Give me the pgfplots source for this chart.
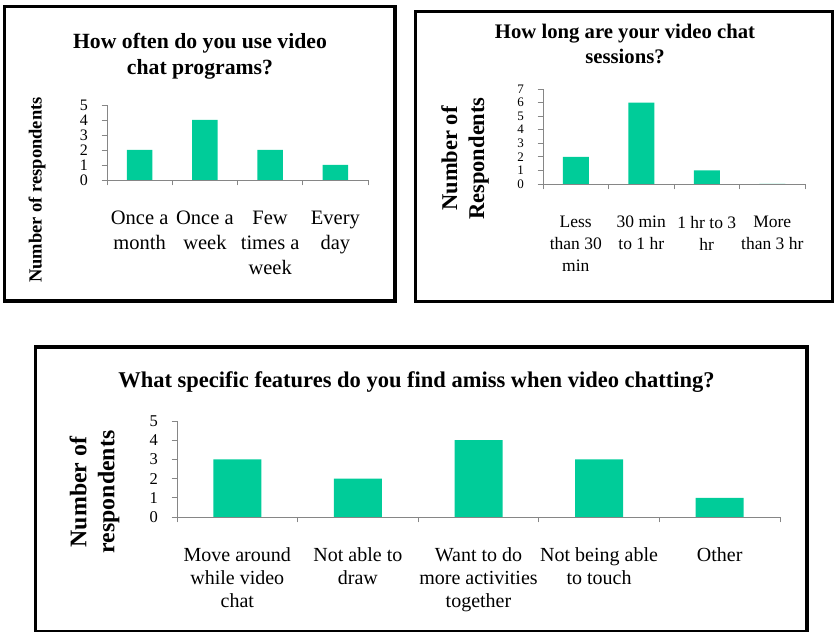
\documentclass[border=0pt]{standalone}
\usepackage{fontspec}
\setmainfont{Liberation Serif}
\usepackage{pgfplots}
\pgfplotsset{compat=1.18}
\definecolor{barc}{RGB}{0,204,153}
\definecolor{axc}{RGB}{134,134,134}
\pgfplotsset{
  mybar/.style={
    scale only axis,
    anchor=south west,
    ybar, ymin=0,
    enlargelimits=false,
    clip=false,
    axis x line*=bottom, axis y line*=left,
    axis line style={draw=axc, line width=0.9pt},
    ytick distance=1,
    tick align=outside,
    major tick length=5.5pt,
    ytick style={draw=axc, line width=0.8pt},
    xtick style={draw=none},
    extra x tick labels={},
    extra x tick style={xtick style={draw=axc, line width=0.8pt}},
    /pgf/number format/assume math mode=true,
    yticklabel style={anchor=east, xshift=-10pt},
    xticklabel style={align=center},
    title style={anchor=center, align=center, font=\bfseries},
    ylabel style={anchor=center, align=center, font=\bfseries},
  },
  mybars/.style={fill=barc, draw=none, bar shift=0pt},
}
\begin{document}
\begin{tikzpicture}
\useasboundingbox (0,0) rectangle (834pt,631pt);
% frames
\draw[line width=3.5pt] (4.5pt,624.5pt) rectangle (395pt,330pt);
\draw[line width=3.5pt] (415.5pt,619.5pt) rectangle (832.5pt,329.5pt);
\draw[line width=3.5pt] (35.5pt,284pt) rectangle (807pt,-0.5pt);

% Chart 1
\begin{axis}[mybar,
  at={(107pt,451pt)}, width=261pt, height=75pt,
  xmin=0.5, xmax=4.5, ymax=5,
  xtick={1,2,3,4},
  xticklabels={Once a\\month, Once a\\week, Few\\times a\\week, Every\\day},
  extra x ticks={0.5,1.5,2.5,3.5,4.5},
  xticklabel style={font=\fontsize{20.5}{25}\selectfont, yshift=-22pt},
  yticklabel style={font=\fontsize{16}{16}\selectfont},
  title={How often do you use video\\chat programs?},
  title style={at={(rel axis cs:0.3563,1.567)}, font=\bfseries\fontsize{21.7}{25.5}\selectfont},
  ylabel={Number of respondents},
  ylabel style={at={(rel axis cs:-0.2682,-0.1333)}, font=\bfseries\fontsize{18.5}{20}\selectfont},
  bar width=25.7pt,
]
\addplot[mybars] coordinates {(1,2) (2,4) (3,2) (4,1)};
\end{axis}

% Chart 2
\begin{axis}[mybar,
  at={(543pt,447pt)}, width=262pt, height=95pt,
  xmin=0.5, xmax=4.5, ymax=7,
  xtick={1,2,3,4},
  xticklabels={Less\\than 30\\min, 30 min\\to 1 hr, 1 hr to 3\\hr, More\\than 3 hr},
  extra x ticks={0.5,1.5,2.5,3.5,4.5},
  xticklabel style={font=\fontsize{17.5}{22}\selectfont, yshift=-23pt},
  yticklabel style={font=\fontsize{13}{13}\selectfont},
  title={How long are your video chat\\sessions?},
  title style={at={(rel axis cs:0.313,1.415)}, font=\bfseries\fontsize{20.7}{25}\selectfont},
  ylabel={Number of\\Respondents},
  ylabel style={at={(rel axis cs:-0.2977,0.2684)}, font=\bfseries\fontsize{22.5}{27}\selectfont},
  bar width=26pt,
]
\addplot[mybars] coordinates {(1,2) (2,6) (3,1) (4,0)};
\end{axis}

% Chart 3
\begin{axis}[mybar,
  at={(177pt,114pt)}, width=603pt, height=96pt,
  xmin=0.5, xmax=5.5, ymax=5,
  xtick={1,2,3,4,5},
  xticklabels={Move around\\while video\\chat, Not able to\\draw, Want to do\\more activities\\together, Not being able\\to touch, Other},
  extra x ticks={0.5,1.5,2.5,3.5,4.5,5.5},
  xticklabel style={font=\fontsize{20}{23}\selectfont, yshift=-22pt},
  yticklabel style={font=\fontsize{16.5}{16.5}\selectfont},
  title={What specific features do you find amiss when video chatting?},
  title style={at={(rel axis cs:0.3972,1.344)}, font=\bfseries\fontsize{22.5}{25}\selectfont},
  ylabel={Number of\\respondents},
  ylabel style={at={(rel axis cs:-0.1368,0.2604)}, font=\bfseries\fontsize{23.8}{28}\selectfont},
  bar width=48pt,
]
\addplot[mybars] coordinates {(1,3) (2,2) (3,4) (4,3) (5,1)};
\end{axis}
\end{tikzpicture}
\end{document}
